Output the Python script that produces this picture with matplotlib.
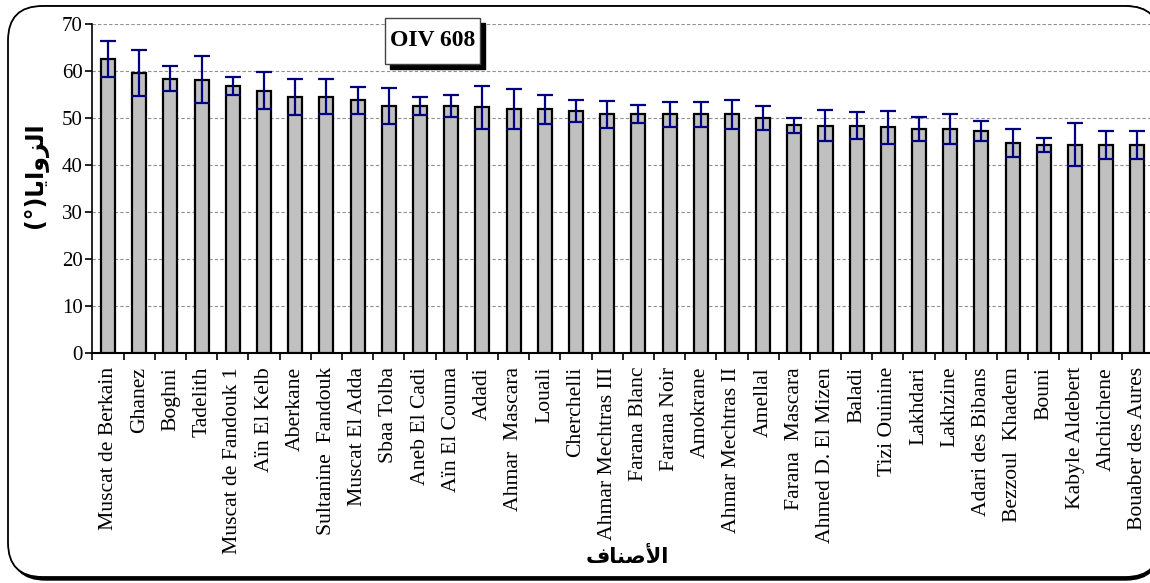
import matplotlib
matplotlib.use("Agg")
import matplotlib.pyplot as plt
from matplotlib.patches import FancyBboxPatch, Rectangle
import numpy as np

categories = ["Muscat de Berkain", "Ghanez", "Boghni", "Tadelith", "Muscat de Fandouk 1",
              "Aïn El Kelb", "Aberkane", "Sultanine  Fandouk", "Muscat El Adda", "Sbaa Tolba",
              "Aneb El Cadi", "Aïn El Couma", "Adadi", "Ahmar  Mascara", "Louali", "Cherchelli",
              "Ahmar Mechtras III", "Farana Blanc", "Farana Noir", "Amokrane", "Ahmar Mechtras II",
              "Amellal", "Farana  Mascara", "Ahmed D. El Mizen", "Baladi", "Tizi Ouinine",
              "Lakhdari", "Lakhzine", "Adari des Bibans", "Bezzoul  Khadem", "Bouni",
              "Kabyle Aldebert", "Ahchichene", "Bouaber des Aures"]
means = [62.6, 59.6, 58.4, 58.1, 56.9, 55.8, 54.5, 54.5, 53.8, 52.6,
         52.6, 52.6, 52.3, 51.9, 51.9, 51.5, 50.8, 50.8, 50.8, 50.8, 50.8,
         50.0, 48.5, 48.4, 48.4, 48.0, 47.7, 47.6, 47.3, 44.7, 44.3,
         44.3, 44.2, 44.2]
errors = [3.8, 4.9, 2.7, 5.0, 1.9, 3.9, 3.8, 3.7, 2.9, 3.8,
          1.9, 2.3, 4.6, 4.2, 3.1, 2.4, 2.9, 1.9, 2.7, 2.7, 3.1,
          2.5, 1.6, 3.3, 2.9, 3.5, 2.5, 3.2, 2.1, 2.9, 1.5,
          4.6, 3.0, 3.0]
yticks = [0, 10, 20, 30, 40, 50, 60, 70]
title_box = "OIV 608"
# Arabic in presentation forms, visual order
ylabel_ar = "(°)" + "\uFE8E\uFEF3\uFE8D\uFEED\uFEB0\uFEDF\uFE8D"   # الزوايا(°)
xlabel_ar = "\uFED1\uFE8E\uFEE8\uFEBB\uFEF7\uFE8D"                   # الأصناف

W, H = 1150, 583
fig = plt.figure(figsize=(W / 100, H / 100), dpi=100)

# outer rounded frame (shadow + border)
shadow = FancyBboxPatch((11 / W, 3 / H), (1160 - 11) / W, (577 - 3) / H,
                        boxstyle="round,pad=0,rounding_size=0.03",
                        transform=fig.transFigure, facecolor="black", edgecolor="black",
                        lw=1, zorder=-2, mutation_aspect=W / H)
fig.patches.append(shadow)
frame = FancyBboxPatch((8 / W, 6 / H), (1160 - 8) / W, (577 - 6) / H,
                       boxstyle="round,pad=0,rounding_size=0.03",
                       transform=fig.transFigure, facecolor="white", edgecolor="black",
                       lw=1.3, zorder=-1, mutation_aspect=W / H)
fig.patches.append(frame)

left = 92.5 / W
right = 1153 / W
bottom = 1 - 353 / H
top = 1 - 24 / H
ax = fig.add_axes([left, bottom, right - left, top - bottom])
ax.set_facecolor("none")

x = np.arange(len(categories))
ax.bar(x, means, width=0.45, color="#C0C0C0", edgecolor="black", linewidth=1.6, zorder=3)
ax.errorbar(x, means, yerr=errors, fmt="none", ecolor="#000080", elinewidth=1.6,
            capsize=5.5, capthick=1.6, zorder=4)

ax.set_xlim(-0.5, len(categories) - 0.5)
ax.set_ylim(0, 70)
ax.set_yticks(yticks)
ax.set_yticklabels([str(v) for v in yticks], fontsize=15, family="Liberation Serif")
ax.yaxis.grid(True, linestyle=(0, (3, 2)), color="#909090", linewidth=0.8, zorder=0)
ax.set_axisbelow(True)

ax.set_xticks(x)
ax.set_xticklabels(categories, rotation=90, fontsize=15.6, family="Liberation Serif",
                   va="top", ha="center")
ax.set_xticks(np.arange(-0.5, len(categories), 1), minor=True)
ax.tick_params(axis="x", which="major", length=0, pad=10)
ax.tick_params(axis="x", which="minor", length=5, width=1.2, direction="out")
ax.tick_params(axis="y", length=5, width=1.2, direction="out", pad=2)

for s in ["top", "right"]:
    ax.spines[s].set_visible(False)
ax.spines["left"].set_linewidth(1.2)
ax.spines["bottom"].set_linewidth(1.5)

# OIV box with shadow
bx0, by0, bw, bh = 385, 18, 95, 46
fig.patches.append(Rectangle(((bx0 + 5) / W, 1 - (by0 + bh + 5) / H), bw / W, bh / H,
                             transform=fig.transFigure, facecolor="black", edgecolor="black",
                             zorder=5))
fig.patches.append(Rectangle((bx0 / W, 1 - (by0 + bh) / H), bw / W, bh / H,
                             transform=fig.transFigure, facecolor="white", edgecolor="#444444",
                             lw=1.0, zorder=6))
fig.text((bx0 + bw / 2) / W, 1 - (by0 + bh / 2) / H, title_box, ha="center", va="center",
         fontsize=17, fontweight="bold", family="Liberation Serif", zorder=7)

fig.text(35 / W, 1 - 175 / H, ylabel_ar, rotation=90, ha="center", va="center",
         fontsize=17, fontweight="bold", family=["DejaVu Sans"])
fig.text(627 / W, 1 - 557 / H, xlabel_ar, ha="center", va="center",
         fontsize=15, fontweight="bold", family=["DejaVu Sans"])

fig.savefig("out.png", dpi=100)
